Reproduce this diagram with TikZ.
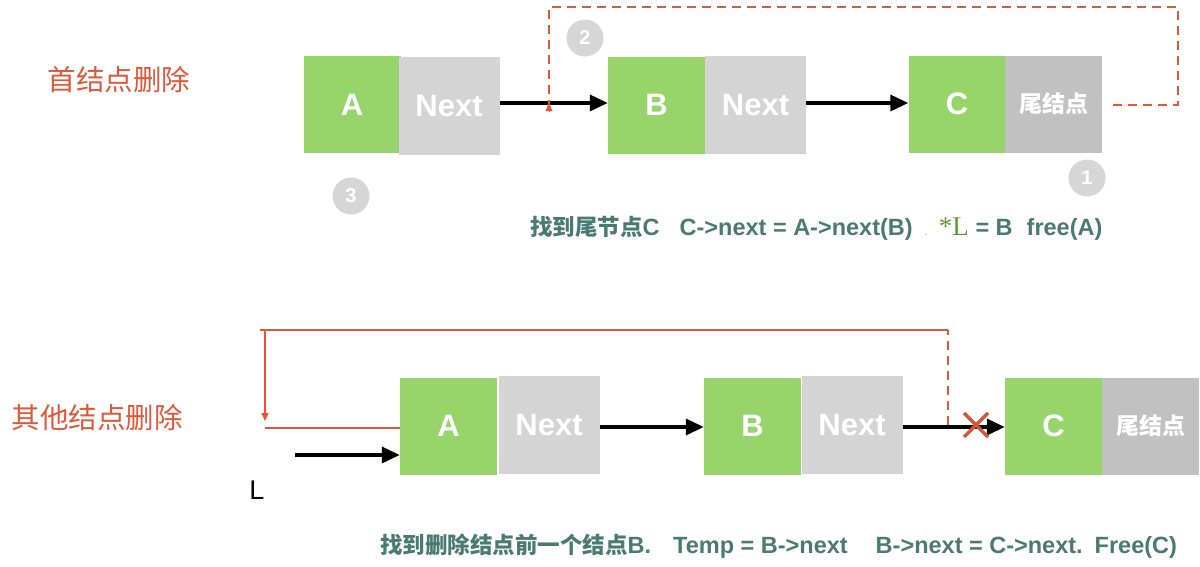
\documentclass[tikz,border=0pt]{standalone}
\usepackage{fontspec}
\setmainfont{Liberation Sans}
\newfontfamily\cjk{Noto Sans CJK SC}
\newfontfamily\serifL{Liberation Serif}
\usetikzlibrary{arrows.meta}
\definecolor{grn}{HTML}{97D56A}
\definecolor{lg}{HTML}{D4D4D4}
\definecolor{dg}{HTML}{C1C1C1}
\definecolor{rd}{HTML}{E0583B}
\definecolor{teal}{HTML}{4A7A72}
\definecolor{lgreen}{HTML}{5A9A35}
\definecolor{circ}{HTML}{D6D6D6}
\newcommand{\capcjk}[1]{{\cjk\fontsize{22.5}{24}\selectfont #1}}
\tikzset{
  databox/.style={fill=grn, minimum width=97pt, minimum height=97pt, inner sep=0pt, text=white, font=\fontsize{31}{33}\selectfont\bfseries},
  nextbox/.style={fill=lg, minimum width=101pt, minimum height=98pt, inner sep=0pt, text=white, font=\fontsize{31}{33}\selectfont\bfseries},
  tailbox/.style={fill=dg, minimum width=97pt, minimum height=97pt, inner sep=0pt, text=white, font=\fontsize{23}{25}\selectfont\cjk\bfseries},
  link/.style={line width=3.5pt, -{Triangle[length=18pt,width=16pt]}},
  redline/.style={rd, line width=1.5pt},
  reddash/.style={rd, line width=1.5pt, dash pattern=on 9pt off 6pt},
  numcirc/.style={circle, fill=circ, minimum size=37pt, inner sep=0pt, text=white, font=\fontsize{20}{22}\selectfont\bfseries},
  title/.style={rd, font=\fontsize{28.5}{30}\selectfont\cjk},
  caption/.style={teal, font=\fontsize{23.5}{25}\selectfont\bfseries, inner sep=0pt}
}
\begin{document}
\begin{tikzpicture}[x=1pt,y=-1pt]
\useasboundingbox (0,0) rectangle (1200,566);
% ---------- top ----------
\node[title, anchor=west] (t1) at (44,80) {首结点删除};
\node[databox] (a1) at (352,104.5) {A};
\node[nextbox] (na1) at (449,105.5) {Next};
\node[databox] (b1) at (656.5,105) {B};
\node[nextbox] (nb1) at (755.5,105) {Next};
\node[databox] (c1) at (957,104) {C};
\node[tailbox] (tc1) at (1053.5,104) {尾结点};
\draw[link] (na1.east |- 0,103) -- (b1.west |- 0,103);
\draw[link] (nb1.east |- 0,103) -- (c1.west |- 0,103);
\coordinate (r1) at (1113,105);
\coordinate (r2) at (1178,105);
\coordinate (r3) at (1178,7);
\coordinate (r4) at (549,7);
\coordinate (r5) at (549,103);
\draw[reddash] (r1) -- (r2) -- (r3) -- (r4) -- ([yshift=-8pt]r5);
\draw[rd, -{Triangle[length=8pt,width=7pt]}] ([yshift=-9pt]r5) -- (r5);
\node[numcirc] (n2) at (585,38) {2};
\node[numcirc] (n1) at (1087,178) {1};
\node[numcirc] (n3) at (351,196) {3};
\node[caption, anchor=west] (cap1) at (530,228) {\capcjk{找到尾节点}C\hspace{20pt}C->next = A->next(B)\hspace{12pt}{\mdseries\fontsize{8}{8}\selectfont .}\hspace{12pt}{\color{lgreen}\serifL\mdseries\fontsize{27}{27}\selectfont *L} = B\hspace{14pt}free(A)};
% ---------- bottom ----------
\node[title, anchor=west] (t2) at (8,418) {其他结点删除};
\node[databox] (a2) at (448.5,426) {A};
\node[nextbox] (na2) at (549,424.5) {Next};
\node[databox] (b2) at (752.5,426) {B};
\node[nextbox] (nb2) at (852,424.5) {Next};
\node[databox] (c2) at (1053.5,426) {C};
\node[tailbox] (tc2) at (1150.5,426) {尾结点};
\draw[link] (na2.east |- 0,427) -- (b2.west |- 0,427);
\draw[link] (nb2.east |- 0,427) -- (c2.west |- 0,427);
\coordinate (s1) at (948,425);
\coordinate (s2) at (948,330);
\coordinate (s3) at (260,330);
\coordinate (s4) at (265,330);
\coordinate (s5) at (265,421);
\coordinate (s6) at (265,428);
\draw[reddash] (s1) -- (s2);
\draw[redline] (s2) -- (s3);
\draw[rd, line width=1.5pt, -{Triangle[length=8pt,width=7pt]}] (s4) -- (s5);
\draw[redline] (s6) -- (a2.west |- s6);
\coordinate (l0) at (295,455);
\draw[link] (l0) -- (a2.west |- l0);
\node[font=\fontsize{27}{29}\selectfont] (L) at (257,490) {L};
\coordinate (x0) at (976,425);
\draw[line width=3.5pt, color=rd!95!black] ([shift={(-12,-12)}]x0) -- ([shift={(12,12)}]x0);
\draw[line width=3.5pt, color=rd!95!black] ([shift={(-12,12)}]x0) -- ([shift={(12,-12)}]x0);
\node[caption, anchor=west] (cap2) at (380,546) {\capcjk{找到删除结点前一个结点}B.\hspace{22pt}Temp = B->next\hspace{28pt}B->next = C->next.\hspace{12pt}Free(C)};
\end{tikzpicture}
\end{document}
